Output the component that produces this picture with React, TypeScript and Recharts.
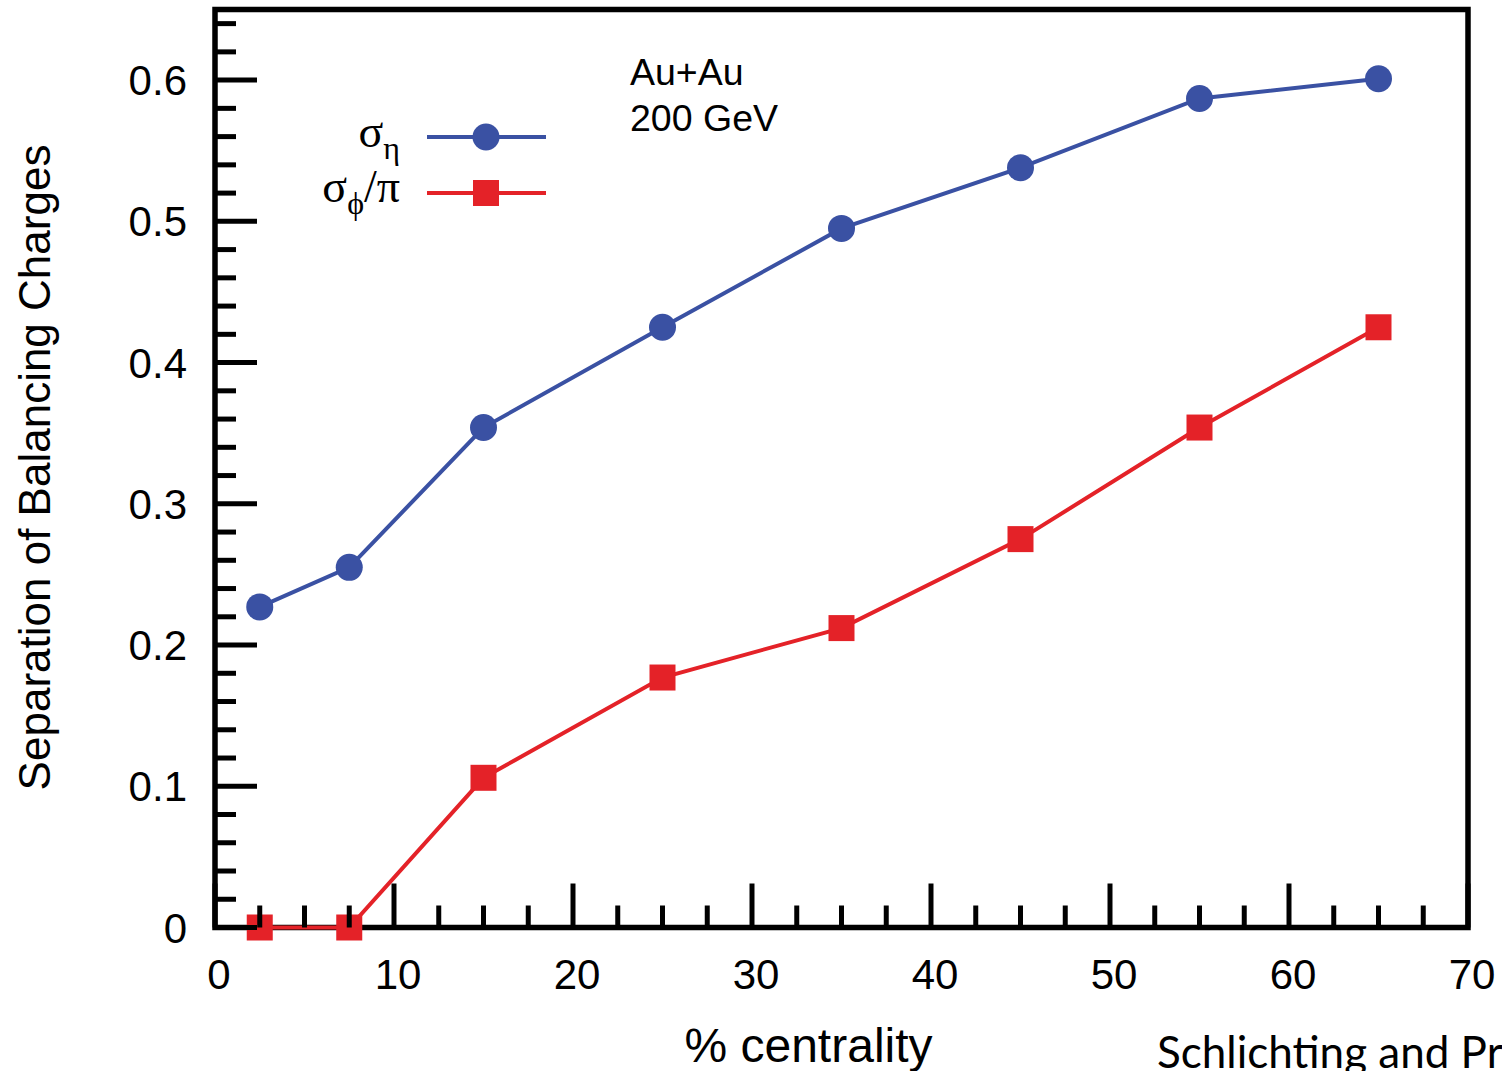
import React from 'react';
import {
  LineChart,
  Line,
  XAxis,
  YAxis,
  ReferenceArea,
  Legend,
  Label,
} from 'recharts';

// centrality bin centres (%)
const centrality = [2.5, 7.5, 15, 25, 35, 45, 55, 65];
// separation of balancing charges
const sigmaEta = [0.227, 0.255, 0.354, 0.425, 0.495, 0.538, 0.587, 0.601];
const sigmaPhiOverPi = [0, 0, 0.106, 0.177, 0.212, 0.275, 0.354, 0.425];

const xTicks = [0, 2.5, 5, 7.5, 10, 12.5, 15, 17.5, 20, 22.5, 25, 27.5, 30, 32.5, 35, 37.5, 40, 42.5, 45, 47.5, 50, 52.5, 55, 57.5, 60, 62.5, 65, 67.5, 70];
const xTickLabels = ['0', '10', '20', '30', '40', '50', '60', '70'];
const yTicks = [
  0, 0.02, 0.04, 0.06, 0.08, 0.1, 0.12, 0.14, 0.16, 0.18, 0.2, 0.22, 0.24, 0.26, 0.28,
  0.3, 0.32, 0.34, 0.36, 0.38, 0.4, 0.42, 0.44, 0.46, 0.48, 0.5, 0.52, 0.54, 0.56, 0.58,
  0.6, 0.62, 0.64,
];
const yTickLabels = ['0', '0.1', '0.2', '0.3', '0.4', '0.5', '0.6'];

const BLUE = '#3a51a3';
const RED = '#e42228';
const SANS = '"Liberation Sans", Arial, sans-serif';
const SERIF = '"Liberation Serif", "Times New Roman", serif';

const data = centrality.map((c, i) => ({
  x: c,
  eta: sigmaEta[i],
  phi: sigmaPhiOverPi[i],
}));

const isMajorY = (v: number) => Math.abs(v * 10 - Math.round(v * 10)) < 1e-6;
const isMajorX = (v: number) => Math.abs(v / 10 - Math.round(v / 10)) < 1e-6;

const LeftTick = (props: any) => {
  const { x, y, payload } = props;
  const major = isMajorY(payload.value);
  const lbl = yTickLabels[Math.round(payload.value * 10)];
  return (
    <g>
      <line x1={x} x2={x + (major ? 42 : 21)} y1={y} y2={y} stroke="#000" strokeWidth={5} />
      {major && (
        <text x={x - 28} y={y} dy="0.36em" textAnchor="end" fontSize={42} fontFamily={SANS} fill="#000">
          {lbl}
        </text>
      )}
    </g>
  );
};

const RightTick = (props: any) => {
  const { x, y, payload } = props;
  const major = isMajorY(payload.value);
  return <line x1={x} x2={x - (major ? 42 : 21)} y1={y} y2={y} stroke="#000" strokeWidth={5} />;
};

const BottomTick = (props: any) => {
  const { x, y, payload } = props;
  const major = isMajorX(payload.value);
  return (
    <g>
      <line x1={x} x2={x} y1={y} y2={y - (major ? 44 : 22)} stroke="#000" strokeWidth={5} />
      {major && (
        <text x={x + 4} y={y + 61} textAnchor="middle" fontSize={42} fontFamily={SANS} fill="#000">
          {xTickLabels[Math.round(payload.value / 10)]}
        </text>
      )}
    </g>
  );
};

const CircleDot = (props: any) => {
  const { cx, cy, index } = props;
  return <circle key={`c${index}`} cx={cx} cy={cy} r={13.5} fill={BLUE} />;
};

const SquareDot = (props: any) => {
  const { cx, cy, index } = props;
  return <rect key={`s${index}`} x={cx - 13} y={cy - 13} width={26} height={26} fill={RED} />;
};

const renderLegend = () => (
  <svg width={600} height={240} style={{ display: 'block' }}>
    <text x={400} y={147} textAnchor="end" fontFamily={SERIF} fontSize={46} fill="#000">
      σ<tspan fontSize={32} dy={12}>η</tspan>
    </text>
    <line x1={427} x2={546} y1={137} y2={137} stroke={BLUE} strokeWidth={4} />
    <circle cx={486} cy={137} r={13.5} fill={BLUE} />
    <text x={400} y={202} textAnchor="end" fontFamily={SERIF} fontSize={46} fill="#000">
      σ<tspan fontSize={32} dy={12}>ϕ</tspan>
      <tspan dy={-12}>/π</tspan>
    </text>
    <line x1={427} x2={546} y1={193} y2={193} stroke={RED} strokeWidth={4} />
    <rect x={473} y={180} width={26} height={26} fill={RED} />
  </svg>
);

const App: React.FC = () => {
  return (
    <div
      style={{
        position: 'absolute',
        left: 0,
        top: 0,
        width: 1502,
        height: 1071,
        overflow: 'hidden',
        background: '#fff',
      }}
    >
      <LineChart
        width={1502}
        height={1071}
        data={data}
        margin={{ top: 9.5, right: 24, bottom: 63.5, left: 115 }}
      >
        <XAxis
          dataKey="x"
          type="number"
          domain={[0, 70]}
          ticks={xTicks}
          interval={0}
          height={80}
          tickSize={0}
          tickMargin={0}
          axisLine={false}
          tick={<BottomTick />}
        >
          <Label
            content={(p: any) => {
              const vb = p.viewBox;
              return (
                <text
                  x={vb.x + vb.width / 2 - 33}
                  y={vb.y + 134}
                  textAnchor="middle"
                  fontSize={48}
                  fontFamily={SANS}
                  fill="#000"
                >
                  % centrality
                </text>
              );
            }}
          />
        </XAxis>
        <YAxis
          yAxisId="left"
          type="number"
          domain={[0, 0.65]}
          ticks={yTicks}
          interval={0}
          width={100}
          tickSize={0}
          tickMargin={0}
          axisLine={false}
          tick={<LeftTick />}
        >
          <Label
            content={(p: any) => {
              const vb = p.viewBox;
              const cx = 50;
              const cy = vb.y + vb.height / 2 - 1;
              return (
                <text
                  x={cx}
                  y={cy}
                  textAnchor="middle"
                  fontSize={44}
                  fontFamily={SANS}
                  fill="#000"
                  transform={`rotate(-90, ${cx}, ${cy})`}
                >
                  Separation of Balancing Charges
                </text>
              );
            }}
          />
        </YAxis>
        <YAxis
          yAxisId="right"
          orientation="right"
          type="number"
          domain={[0, 0.65]}
          ticks={yTicks}
          interval={0}
          width={10}
          tickSize={0}
          tickMargin={0}
          axisLine={false}
          tick={<RightTick />}
        />
        <Legend
          layout="horizontal"
          verticalAlign="middle"
          align="center"
          content={renderLegend}
          wrapperStyle={{ left: 0, top: 0, width: 600, height: 240 }}
        />
        <Line
          yAxisId="left"
          type="linear"
          dataKey="eta"
          name="σ_η"
          stroke={BLUE}
          strokeWidth={4}
          dot={CircleDot}
          activeDot={false}
          isAnimationActive={false}
        />
        <Line
          yAxisId="left"
          type="linear"
          dataKey="phi"
          name="σ_ϕ/π"
          stroke={RED}
          strokeWidth={4}
          dot={SquareDot}
          activeDot={false}
          isAnimationActive={false}
        />
        <ReferenceArea
          yAxisId="left"
          x1={0}
          x2={70}
          y1={0}
          y2={0.65}
          fill="none"
          fillOpacity={0}
          stroke="#000"
          strokeWidth={5.5}
          ifOverflow="visible"
        />
      </LineChart>
      <svg
        width={300}
        height={100}
        style={{ position: 'absolute', left: 600, top: 40, pointerEvents: 'none' }}
      >
        <text x={30} y={45} fontSize={37.5} fontFamily={SANS} fill="#000">
          Au+Au
        </text>
        <text x={30} y={91} fontSize={37.5} fontFamily={SANS} fill="#000">
          200 GeV
        </text>
      </svg>
      <div
        style={{
          position: 'absolute',
          left: 1157,
          top: 1024,
          fontFamily: 'Lato, "Open Sans", sans-serif',
          fontSize: 44,
          lineHeight: '54px',
          whiteSpace: 'nowrap',
          color: '#000',
        }}
      >
        Schlichting and Pratt
      </div>
    </div>
  );
};

export default App;
